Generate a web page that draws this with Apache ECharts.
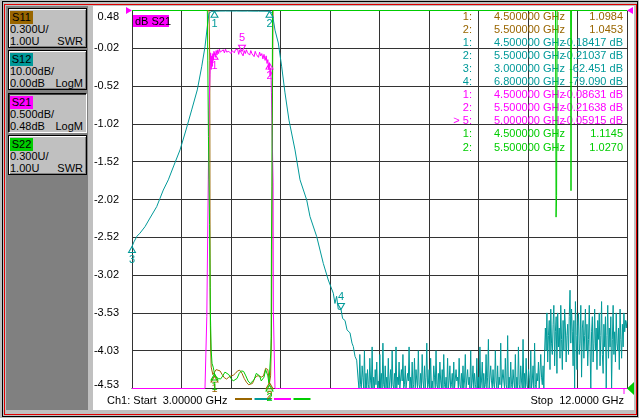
<!DOCTYPE html>
<html><head><meta charset="utf-8">
<script src="https://cdn.jsdelivr.net/npm/echarts@6.0.0/dist/echarts.min.js"></script>
<style>
html,body{margin:0;padding:0;}
body{width:639px;height:418px;position:relative;overflow:hidden;background:#c0c0c0;font-family:"Liberation Sans",Arial,sans-serif;font-size:11px;color:#000;}
.abs{position:absolute;box-sizing:border-box;}
#blk{left:2px;top:1px;width:636px;height:416px;border:1px solid #000;}
#red{left:4px;top:4px;width:633px;height:411px;border:1px solid #e00000;}
#lp{left:6px;top:6px;width:82px;height:404px;background:#808080;}
#sep{left:88px;top:6px;width:5px;height:404px;background:#c0c0c0;}
#pp{left:93px;top:6px;width:541px;height:404px;background:#fff;}
.btn{position:absolute;box-sizing:border-box;left:8px;width:79px;height:40px;background:#c0c0c0;border:1px solid #000;box-shadow:inset 1px 1px #fff, inset -1px -1px #808080;}
.btn.sel{border-color:#000 #fff #fff #000;box-shadow:inset 1px 1px #404040;}
.tag{position:absolute;left:1px;top:2px;width:23px;height:13px;line-height:13px;text-align:center;}
.l2{position:absolute;left:1px;top:14px;line-height:13px;white-space:nowrap;}
.l3{position:absolute;left:1px;top:26px;line-height:13px;white-space:nowrap;}
.r3{position:absolute;right:3px;top:26px;line-height:13px;}
#chart{position:absolute;left:0;top:0;width:639px;height:418px;}
</style></head>
<body>
<div class="abs" id="blk"></div>
<div class="abs" id="red"></div>
<div class="abs" id="lp"></div>
<div class="abs" id="sep"></div>
<div class="abs" id="pp"></div>
<div class="btn" style="top:8px"><div class="tag" style="background:#996600">S11</div><div class="l2">0.300U/</div><div class="l3">1.00U</div><div class="r3">SWR</div></div>
<div class="btn" style="top:50px"><div class="tag" style="background:#009999">S12</div><div class="l2">10.00dB/</div><div class="l3">0.00dB</div><div class="r3">LogM</div></div>
<div class="btn sel" style="top:93px"><div class="tag" style="background:#ff00ff">S21</div><div class="l2">0.500dB/</div><div class="l3">0.48dB</div><div class="r3">LogM</div></div>
<div class="btn" style="top:135px"><div class="tag" style="background:#00cc00">S22</div><div class="l2">0.300U/</div><div class="l3">1.00U</div><div class="r3">SWR</div></div>
<div id="chart"></div>
<script>
// ---- tick labels (S21 scale, top to bottom) ----
const yTickLabels = ['0.48','-0.02','-0.52','-1.02','-1.52','-2.02','-2.52','-3.02','-3.53','-4.03','-4.53'];
const startFreq = 3.0;
const stopFreq = 12.0;

// ---- S11 (SWR) ----
const s11Freq = [3.0,4.0,4.40,4.414,4.418,4.421,4.425,4.432,4.44,4.47,
  4.50,4.53,4.56,4.60,4.64,4.68,4.72,4.76,4.80,4.84,
  4.88,4.92,4.96,5.00,5.04,5.08,5.12,5.15,5.19,5.23,
  5.27,5.31,5.35,5.39,5.43,5.45,5.47,5.49,5.50,5.52,
  5.535,5.545,5.555,5.565,6.5,12.0];
const s11Swr = [40,25,12,3.6,2.4,1.8,1.5,1.3,1.17,1.11,
  1.0984,1.15,1.165,1.14,1.11,1.085,1.075,1.09,1.10,1.105,
  1.12,1.14,1.145,1.12,1.08,1.05,1.03,1.024,1.04,1.08,
  1.10,1.10,1.09,1.10,1.16,1.17,1.15,1.08,1.0453,1.10,
  1.4,2.2,3.4,6,20,30];

// ---- S12 (dB) ----
const s12Freq = [3.000,3.036,3.091,3.145,3.236,3.327,3.449,3.509,3.569,3.660,
  3.764,3.873,3.982,4.085,4.187,4.267,4.327,4.369,4.400,4.420,
  4.450,4.500,4.600,4.700,4.800,4.900,5.000,5.100,5.200,5.300,
  5.400,5.500,5.530,5.550,5.570,5.600,5.660,5.722,5.782,5.854,
  5.964,6.055,6.176,6.236,6.358,6.478,6.569,6.660,6.690,6.720,
  6.750,6.800,6.830,6.873,6.910,6.964,7.000,7.024,7.055,7.085];
const s12Db = [-62.45,-61.2,-59.7,-58.9,-57.2,-54.9,-51.9,-49.7,-47.5,-44.8,
  -40.9,-36.9,-31.6,-26.3,-21.0,-14.9,-9.6,-4.3,-0.7,-0.35,
  -0.22,-0.18417,-0.15,-0.14,-0.15,-0.14,-0.16,-0.15,-0.17,-0.18,
  -0.19,-0.21037,-0.25,-0.6,-2.5,-5.2,-8.6,-14.9,-21.8,-29.0,
  -36.9,-44.8,-50.1,-54.5,-59.8,-66.9,-71.3,-74.8,-77.5,-75.6,
  -79.0,-79.09,-81.5,-82.0,-84.5,-85.3,-88.0,-88.9,-91.5,-92.5];
// noise floor, linear sweep points from 7.10 GHz in 0.014 GHz steps
const s12NoiseStart = 7.10;
const s12NoiseStep = 0.014;
const s12NoiseDb = [
  -93,-98,-101,-91,-99,-104,-94,-97,-100,-90,-102,-96,-103,-95,-99,-101,-92,-98,-104,-89,
  -100,-97,-102,-95,-99,-93,-105,-98,-101,-91,-100,-96,-103,-88,-99,-102,-94,-100,-97,-104,
  -92,-101,-98,-95,-103,-90,-99,-100,-96,-102,-89,-104,-97,-99,-93,-101,-106,-95,-98,-91,
  -102,-99,-94,-100,-103,-96,-98,-89,-101,-97,-104,-93,-100,-99,-92,-102,-95,-98,-105,-90,
  -99,-101,-96,-103,-91,-98,-100,-94,-102,-97,-88,-101,-99,-95,-104,-92,-100,-98,-103,-94,
  -97,-101,-90,-99,-102,-96,-104,-93,-98,-100,-95,-103,-91,-99,-101,-97,-105,-92,-100,-98,
  -94,-102,-99,-96,-101,-93,-100,-104,-95,-98,-97,-103,-92,-99,-101,-96,-100,-94,-102,-98,
  -91,-100,-103,-95,-99,-97,-102,-90,-101,-98,-94,-104,-96,-99,-100,-92,-103,-97,-101,-89,
  -100,-98,-93,-102,-96,-104,-99,-91,-101,-97,-87,-100,-103,-94,-98,-101,-95,-99,-102,-90,
  -98,-101,-94,-103,-97,-99,-88,-100,-102,-95,-98,-104,-92,-99,-101,-86,-100,-97,-103,-93,
  -99,-101,-95,-98,-102,-91,-100,-97,-104,-89,-99,-101,-94,-98,-103,-87,-100,-96,-102,-92,
  -99,-101,-95,-97,-103,-90,-100,-98,-94,-102,-88,-99,-101,-96,-98,-93,-100,-103,-91,-97,
  -99,-94,-101,-90,
  -84,-90,-80,-93,-86,-82,-95,-79,-88,-91,-83,-78,-94,-85,-81,-96,-80,-89,-84,-92,
  -78,-87,-95,-82,-90,-79,-84,-93,-86,-83,-91,-81,-74,-88,-79,-85,-94,-82,-101,-77,
  -86,-95,-83,-80,-91,-88,-78,-97,-84,-82,-92,-86,-79,-90,-83,-94,-87,-78,-89,-101,
  -85,-81,-93,-88,-79,-90,-84,-95,-82,-87,-80,-94,-86,-77,-91,-96,-83,-89,-81,-100,
  -86,-78,-92,-84,-89,-81,-102,-87,-78,-91,-85,-93,-80,-88,-90,-84,-95,-79,-87,-92,
  -83,-89,-80,-85,-82,-84,-82];

// ---- S21 (dB) ----
const s21Freq = [3.0,4.0,4.327,4.355,4.36,4.387,4.40,4.418,4.430,4.440,
  4.450,4.460,4.470,4.480,4.490,4.500,4.515,4.530,4.545,4.560,
  4.575,4.590,4.605,4.620,4.640,4.660,4.680,4.700,4.720,4.740,
  4.760,4.780,4.800,4.820,4.840,4.860,4.880,4.900,4.920,4.940,
  4.960,4.980,5.000,5.020,5.040,5.060,5.080,5.100,5.120,5.140,
  5.160,5.180,5.200,5.220,5.240,5.260,5.280,5.300,5.320,5.340,
  5.360,5.380,5.400,5.420,5.440,5.455,5.470,5.485,5.500,5.510,
  5.520,5.530,5.535,5.545,5.565,5.570,5.600,5.660,6.800,12.0];
const s21Db = [-62.4,-31.5,-9.6,-5.5,-3.57,-1.76,-0.84,-0.37,-0.08,-0.30,
  -0.12,-0.26,-0.09,-0.18,-0.06,-0.08631,-0.14,-0.05,-0.11,-0.04,
  -0.09,-0.03,-0.07,-0.05,-0.06,-0.04,-0.08,-0.03,-0.07,-0.05,
  -0.06,-0.04,-0.09,-0.05,-0.03,-0.08,-0.04,-0.06,-0.03,-0.10,
  -0.04,-0.07,-0.05915,-0.12,-0.05,-0.09,-0.04,-0.08,-0.06,-0.11,
  -0.05,-0.09,-0.07,-0.13,-0.06,-0.10,-0.08,-0.14,-0.07,-0.12,
  -0.09,-0.16,-0.10,-0.18,-0.12,-0.22,-0.17,-0.30,-0.21638,-0.38,
  -0.28,-0.45,-0.60,-1.0,-1.8,-3.5,-5.2,-8.6,-79.1,-90];

// ---- S22 (SWR) ----
const s22Freq = [3.0,4.0,4.37,4.378,4.39,4.41,4.425,4.44,4.455,4.476,
  4.49,4.50,4.53,4.57,4.61,4.65,4.69,4.72,4.76,4.80,
  4.84,4.87,4.91,4.95,4.99,5.03,5.07,5.11,5.15,5.18,
  5.22,5.26,5.29,5.32,5.35,5.37,5.40,5.43,5.45,5.47,
  5.49,5.50,5.515,5.525,5.53,5.535,5.545,5.555,5.60,10.70,
  10.71,10.72,10.73,10.975,10.982,10.99,12.0];
const s22Swr = [40,25,10,3.6,3.0,2.3,1.6,1.3,1.2,1.17,
  1.14,1.1145,1.09,1.08,1.075,1.10,1.13,1.135,1.11,1.08,
  1.06,1.045,1.08,1.12,1.14,1.135,1.10,1.06,1.04,1.035,
  1.07,1.12,1.135,1.10,1.06,1.05,1.09,1.15,1.16,1.10,
  1.04,1.027,1.03,1.3,1.41,2.1,2.6,4.5,12,12,
  2.36,2.53,12,12,2.57,12,30];

// ---- markers ----
const s11MarkerIds = [1,2];
const s11MarkerFreq = [4.5,5.5];
const s11MarkerVal = [1.0984,1.0453];
const s12MarkerIds = [1,2,3,4];
const s12MarkerFreq = [4.5,5.5,3.0,6.8];
const s12MarkerVal = [-0.18417,-0.21037,-62.451,-79.090];
const s21MarkerIds = [1,2,5];
const s21MarkerFreq = [4.5,5.5,5.0];
const s21MarkerVal = [-0.08631,-0.21638,-0.05915];
const s21ActiveMarker = 5;
const s22MarkerIds = [1,2];
const s22MarkerFreq = [4.5,5.5];
const s22MarkerVal = [1.1145,1.0270];

// ---- styles ----
const FONT = '"Liberation Sans", Arial, sans-serif';
const C11 = '#996600', C12 = '#009999', C21 = '#ff00ff', C22 = '#00cc00';
const GRIDC = '#333333';
const s21Range = [-4.52, 0.48];
const s12Range = [-100, 0];
const swrRange = [1, 4];
const markAbove = {s12: [false,false,false,true], s21: [false,false,true]};

function clampTo(v, r){ return Math.min(r[1], Math.max(r[0], v)); }
function pairs(fs, vs, r){ return fs.map((f,i)=>[f, clampTo(vs[i], r)]); }

const s12Data = pairs(s12Freq, s12Db, s12Range).concat(
  s12NoiseDb.map((v,i)=>[s12NoiseStart + i*s12NoiseStep, clampTo(v, s12Range)]));

function markers(ids, fs, vs, r, above){
  return ids.map((id,i)=>{
    const m = {name:String(id), coord:[fs[i], clampTo(vs[i], r)]};
    if (above && above[i]) { m.symbolRotate = 180; m.symbolOffset = [0,-3]; m.label = {position:'top'}; }
    return m;
  });
}

function trace(name, color, yIdx, data, mk){
  return {
    type:'line', name, xAxisIndex:1, yAxisIndex:yIdx, data,
    showSymbol:false, symbol:'none', clip:false, silent:true, animation:false,
    lineStyle:{color, width:1}, itemStyle:{color},
    markPoint:{
      symbol:'triangle', symbolSize:[7,6], symbolOffset:[0,3], silent:true, animation:false,
      itemStyle:{color:'rgba(0,0,0,0)', borderColor:color, borderWidth:1},
      label:{show:true, position:'bottom', distance:1, color, fontSize:11, fontFamily:FONT, formatter:'{b}'},
      data: mk
    }
  };
}

// marker readout table
const graphics = [];
let row = 0;
function tableRows(ids, fs, vs, color, isDb, active){
  ids.forEach((id,i)=>{
    const y = 16.5 + row*13.1;
    const v = vs[i];
    const vt = isDb ? (Math.abs(v) < 1 ? v.toFixed(5) : v.toFixed(3)) + ' dB' : v.toFixed(4);
    const idt = (id === active ? '> ' : '') + id + ':';
    const st = {fill:color, font:'11px ' + FONT, verticalAlign:'middle'};
    graphics.push({type:'text', x:472, y, z:1, silent:true, style:Object.assign({text:idt, align:'right'}, st)});
    graphics.push({type:'text', x:494, y, z:1, silent:true, style:Object.assign({text:fs[i].toFixed(6)+' GHz', align:'left'}, st)});
    graphics.push({type:'text', x:623, y, z:1, silent:true, style:Object.assign({text:vt, align:'right'}, st)});
    row++;
  });
}
tableRows(s11MarkerIds, s11MarkerFreq, s11MarkerVal, C11, false);
tableRows(s12MarkerIds, s12MarkerFreq, s12MarkerVal, C12, true);
tableRows(s21MarkerIds, s21MarkerFreq, s21MarkerVal, C21, true, s21ActiveMarker);
tableRows(s22MarkerIds, s22MarkerFreq, s22MarkerVal, C22, false);

// active trace tag
graphics.push({type:'rect', z:1, silent:true, shape:{x:133, y:15, width:36, height:12}, style:{fill:C21}});
graphics.push({type:'text', x:135, y:21.5, z:2, silent:true, style:{text:'dB S21', fill:'#000', font:'11px '+FONT, align:'left', verticalAlign:'middle'}});
// footer
graphics.push({type:'text', x:107, y:401, z:1, silent:true, style:{text:'Ch1: Start  ' + startFreq.toPrecision(6) + ' GHz', fill:'#000', font:'11px '+FONT, align:'left', verticalAlign:'middle'}});
graphics.push({type:'text', x:624, y:401, z:1, silent:true, style:{text:'Stop  ' + stopFreq.toPrecision(6) + ' GHz', fill:'#000', font:'11px '+FONT, align:'right', verticalAlign:'middle'}});
[C11, C12, C21, C22].forEach((c,i)=>{
  graphics.push({type:'rect', z:1, silent:true, shape:{x:235 + i*19.5, y:398, width:17, height:2}, style:{fill:c}});
});
// reference-position indicators
graphics.push({type:'polygon', z:10, silent:true, shape:{points:[[126,7],[132,10.5],[126,14]]}, style:{fill:C21}});
graphics.push({type:'polygon', z:10, silent:true, shape:{points:[[633,7],[627,10.5],[633,14]]}, style:{fill:C21}});
graphics.push({type:'polygon', z:10, silent:true, shape:{points:[[634,382],[627,388.5],[634,395]]}, style:{fill:C22}});
graphics.push({type:'line', z:10, silent:true, shape:{x1:624, y1:389, x2:624, y2:394}, style:{stroke:C21, lineWidth:1}});

const chart = echarts.init(document.getElementById('chart'), null, {renderer:'canvas'});
chart.setOption({
  animation:false,
  backgroundColor:'transparent',
  textStyle:{fontFamily:FONT},
  grid:{left:132, top:10.5, width:495, height:378, containLabel:false, outerBoundsMode:'none'},
  xAxis:[
    {type:'value', gridIndex:0, min:0, max:10, interval:1, position:'bottom',
     axisLine:{show:true, onZero:false, lineStyle:{color:GRIDC, width:1}}, axisTick:{show:false}, axisLabel:{show:false},
     splitLine:{show:true, lineStyle:{color:GRIDC, width:1}}},
    {type:'value', gridIndex:0, min:startFreq, max:stopFreq, show:false}
  ],
  yAxis:[
    {type:'value', gridIndex:0, min:0, max:10, interval:1, position:'left',
     axisLine:{show:true, onZero:false, lineStyle:{color:GRIDC, width:1}}, axisTick:{show:false},
     splitLine:{show:true, lineStyle:{color:GRIDC, width:1}},
     axisLabel:{show:true, margin:13, color:'#000', fontSize:11, fontFamily:FONT,
       formatter:function(v){
         const i = 10 - Math.round(v);
         if (i === 0) return '{t|' + yTickLabels[i] + '}';
         if (i === 10) return '{b|' + yTickLabels[i] + '}';
         return yTickLabels[i];
       },
       rich:{t:{padding:[12,0,0,0], color:'#000', fontSize:11, fontFamily:FONT},
             b:{padding:[0,0,7,0], color:'#000', fontSize:11, fontFamily:FONT}}}},
    {type:'value', gridIndex:0, min:s21Range[0], max:s21Range[1], show:false},
    {type:'value', gridIndex:0, min:s12Range[0], max:s12Range[1], show:false},
    {type:'value', gridIndex:0, min:swrRange[0], max:swrRange[1], show:false}
  ],
  graphic: graphics,
  series:[
    trace('S11', C11, 3, pairs(s11Freq, s11Swr, swrRange), markers(s11MarkerIds, s11MarkerFreq, s11MarkerVal, swrRange)),
    trace('S12', C12, 2, s12Data, markers(s12MarkerIds, s12MarkerFreq, s12MarkerVal, s12Range, markAbove.s12)),
    trace('S21', C21, 1, pairs(s21Freq, s21Db, s21Range), markers(s21MarkerIds, s21MarkerFreq, s21MarkerVal, s21Range, markAbove.s21)),
    trace('S22', C22, 3, pairs(s22Freq, s22Swr, swrRange), markers(s22MarkerIds, s22MarkerFreq, s22MarkerVal, swrRange))
  ]
});
</script>
</body></html>
